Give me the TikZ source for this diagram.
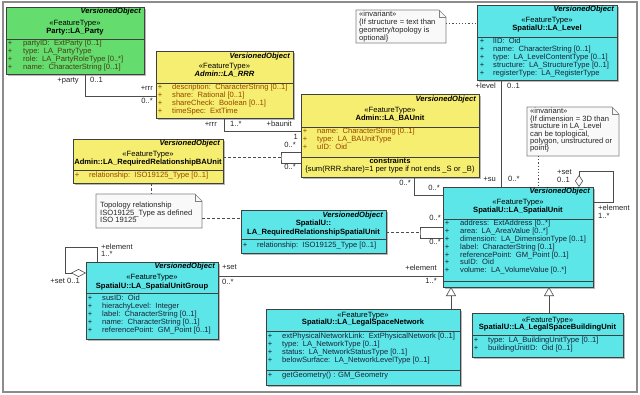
\documentclass[tikz,border=0pt]{standalone}
\usepackage{fontspec}
\setmainfont{Liberation Sans}
\usetikzlibrary{shadows,arrows.meta}
\definecolor{umlgreen}{RGB}{100,220,110}
\definecolor{umlyellow}{RGB}{246,238,112}
\definecolor{umlcyan}{RGB}{92,230,232}
\definecolor{gattr}{RGB}{70,60,20}
\definecolor{yattr}{RGB}{150,70,0}
\definecolor{cattr}{RGB}{25,35,55}
\definecolor{notefill}{RGB}{249,249,249}
\newcommand{\acol}{:\ \ }
\newcommand{\umlfs}{\fontsize{7.6}{7.8}\selectfont}
\newcommand{\umlattrs}[6]{%
  \foreach \s [count=\i] in {#6} {
    \node[pls, text=#5] (#1-p\i) at (#2, #4+7.8*\i-7.8) {+};
    \node[atr, text=#5] (#1-a\i) at (#3, #4+7.8*\i-7.8) {\s};
  }}
\newcommand{\umlnote}[5]{%
  \foreach \s [count=\i] in {#5} {
    \node[atr, text=black!85] (#1-l\i) at (#2, #3+#4*\i-#4) {\s};
  }}
\begin{document}
\begin{tikzpicture}[x=1pt,y=-1pt,
  box/.style={draw=black!75, line width=0.6pt, anchor=north west, inner sep=0, outer sep=0,
    drop shadow={shadow xshift=1.6pt, shadow yshift=-1.6pt, fill=black!55, opacity=0.5}},
  gbox/.style={box, fill=umlgreen},
  ybox/.style={box, fill=umlyellow},
  cbox/.style={box, fill=umlcyan},
  notebox/.style={anchor=north west, inner sep=0, outer sep=0},
  notel/.style={draw=black!50, line width=0.6pt, fill=notefill},
  lbl/.style={inner sep=0, font=\umlfs, text height=5.3pt, text depth=1.5pt},
  vo/.style={lbl, anchor=east, font=\umlfs\bfseries\itshape},
  ster/.style={lbl, anchor=center},
  ttl/.style={lbl, anchor=center, font=\umlfs\bfseries},
  atr/.style={lbl, anchor=west},
  pls/.style={lbl, anchor=center},
  mult/.style={lbl, text=black!85},
  sep/.style={draw=black!75, line width=0.6pt},
  assoc/.style={draw=black!70, line width=0.6pt},
  dashc/.style={assoc, dash pattern=on 3pt off 2pt},
  dotc/.style={assoc, dash pattern=on 1.2pt off 2pt},
  gen/.style={assoc, -{Triangle[fill=white, length=9pt, width=10pt]}},
  agg/.style={assoc, -{Diamond[fill=white, length=#1, width=8pt]}}
]
\useasboundingbox (0,0) rectangle (640,394);
\fill[white] (0,0) rectangle (640,394);
\draw[black!45, line width=1.4pt] (3,2) rectangle (637,392);

% ---------- Party::LA_Party ----------
\node[gbox, minimum width=138pt, minimum height=67pt] (party) at (6,7) {};
\node[vo] (party-vo) at (141,12) {VersionedObject};
\node[ster] (party-st) at (75,24) {«FeatureType»};
\node[ttl] (party-ti) at (75,32) {Party::LA\_Party};
\draw[sep] (party.west |- 0,39) -- (party.east |- 0,39);
\umlattrs{party}{10}{23}{44}{gattr}{partyID\acol ExtParty [0..1], type\acol LA\_PartyType, role\acol LA\_PartyRoleType [0..*], name\acol CharacterString [0..1]}

% ---------- Admin::LA_RRR ----------
\node[ybox, minimum width=137pt, minimum height=67pt] (rrr) at (156,51) {};
\node[vo] (rrr-vo) at (290,57) {VersionedObject};
\node[ster] (rrr-st) at (224.5,67) {«FeatureType»};
\node[ttl, font=\umlfs\bfseries\itshape] (rrr-ti) at (224.5,75) {Admin::LA\_RRR};
\draw[sep] (rrr.west |- 0,83) -- (rrr.east |- 0,83);
\umlattrs{rrr}{160}{172}{88}{yattr}{description\acol CharacterString [0..1], share\acol Rational [0..1], shareCheck\acol Boolean [0..1], timeSpec\acol ExtTime}

% ---------- Admin::LA_BAUnit ----------
\node[ybox, minimum width=178pt, minimum height=83pt] (bau) at (301,94) {};
\node[vo] (bau-vo) at (476,100) {VersionedObject};
\node[ster] (bau-st) at (390,111) {«FeatureType»};
\node[ttl] (bau-ti) at (390,119) {Admin::LA\_BAUnit};
\draw[sep] (bau.west |- 0,127) -- (bau.east |- 0,127);
\umlattrs{bau}{305}{317}{132}{yattr}{name\acol CharacterString [0..1], type\acol LA\_BAUnitType, uID\acol Oid}
\draw[sep] (bau.west |- 0,157) -- (bau.east |- 0,157);
\node[ttl] (bau-co) at (390,162) {constraints};
\node[ster] (bau-cx) at (390,170) {\{sum(RRR.share)=1 per type if not ends \_S or \_B)};

% ---------- Admin::LA_RequiredRelationshipBAUnit ----------
\node[ybox, minimum width=150pt, minimum height=44pt] (rrbau) at (73,139) {};
\node[vo] (rrbau-vo) at (220,144) {VersionedObject};
\node[ster] (rrbau-st) at (148,155) {«FeatureType»};
\node[ttl] (rrbau-ti) at (148,163) {Admin::LA\_RequiredRelationshipBAUnit};
\draw[sep] (rrbau.west |- 0,170) -- (rrbau.east |- 0,170);
\umlattrs{rrbau}{77}{89}{176}{yattr}{relationship\acol ISO19125\_Type [0..1]}

% ---------- SpatialU::LA_RequiredRelationshipSpatialUnit ----------
\node[cbox, minimum width=145pt, minimum height=43pt] (rrsu) at (241,210) {};
\node[vo] (rrsu-vo) at (383,216) {VersionedObject};
\node[ttl] (rrsu-t1) at (313.5,224) {SpatialU::};
\node[ttl] (rrsu-t2) at (313.5,233) {LA\_RequiredRelationshipSpatialUnit};
\draw[sep] (rrsu.west |- 0,239) -- (rrsu.east |- 0,239);
\umlattrs{rrsu}{245}{257}{246}{cattr}{relationship\acol ISO19125\_Type [0..1]}

% ---------- SpatialU::LA_Level ----------
\node[cbox, minimum width=140pt, minimum height=75pt] (lvl) at (477,5) {};
\node[vo] (lvl-vo) at (614,10) {VersionedObject};
\node[ster] (lvl-st) at (547,21) {«FeatureType»};
\node[ttl] (lvl-ti) at (547,29) {SpatialU::LA\_Level};
\draw[sep] (lvl.west |- 0,37) -- (lvl.east |- 0,37);
\umlattrs{lvl}{482}{493}{42}{cattr}{lID\acol Oid, name\acol CharacterString [0..1], type\acol LA\_LevelContentType [0..1], structure\acol LA\_StructureType [0..1], registerType\acol LA\_RegisterType}

% ---------- SpatialU::LA_SpatialUnit ----------
\node[cbox, minimum width=150pt, minimum height=100pt] (su) at (443,187) {};
\node[vo] (su-vo) at (590,192) {VersionedObject};
\node[ster] (su-st) at (518,203) {«FeatureType»};
\node[ttl] (su-ti) at (518,211) {SpatialU::LA\_SpatialUnit};
\draw[sep] (su.west |- 0,219) -- (su.east |- 0,219);
\umlattrs{su}{447}{460}{224}{cattr}{address\acol ExtAddress [0..*], area\acol LA\_AreaValue [0..*], dimension\acol LA\_DimensionType [0..1], label\acol CharacterString [0..1], referencePoint\acol GM\_Point [0..1], suID\acol Oid, volume\acol LA\_VolumeValue [0..*]}
\draw[sep] (su.west |- 0,281) -- (su.east |- 0,281);

% ---------- SpatialU::LA_SpatialUnitGroup ----------
\node[cbox, minimum width=132pt, minimum height=77pt] (sug) at (86,262) {};
\node[vo] (sug-vo) at (215,267) {VersionedObject};
\node[ster] (sug-st) at (152,278) {«FeatureType»};
\node[ttl] (sug-ti) at (152,287) {SpatialU::LA\_SpatialUnitGroup};
\draw[sep] (sug.west |- 0,293) -- (sug.east |- 0,293);
\umlattrs{sug}{90}{102}{299}{cattr}{susID\acol Oid, hierachyLevel\acol Integer, label\acol CharacterString [0..1], name\acol CharacterString [0..1], referencePoint\acol GM\_Point [0..1]}

% ---------- SpatialU::LA_LegalSpaceNetwork ----------
\node[cbox, minimum width=194pt, minimum height=76pt] (lsn) at (266,309) {};
\node[ster] (lsn-st) at (363,316) {«FeatureType»};
\node[ttl] (lsn-ti) at (363,323) {SpatialU::LA\_LegalSpaceNetwork};
\draw[sep] (lsn.west |- 0,331) -- (lsn.east |- 0,331);
\umlattrs{lsn}{270}{282}{337}{cattr}{extPhysicalNetworkLink\acol ExtPhysicalNetwork [0..1], type\acol LA\_NetworkType [0..1], status\acol LA\_NetworkStatusType [0..1], belowSurface\acol LA\_NetworkLevelType [0..1]}
\draw[sep] (lsn.west |- 0,370) -- (lsn.east |- 0,370);
\node[pls, text=cattr] (lsn-op) at (270,376) {+};
\node[atr, text=cattr] (lsn-o1) at (282,376) {getGeometry() : GM\_Geometry};

% ---------- SpatialU::LA_LegalSpaceBuildingUnit ----------
\node[cbox, minimum width=151pt, minimum height=44pt] (lsbu) at (472,313) {};
\node[ster] (lsbu-st) at (547.5,321) {«FeatureType»};
\node[ttl] (lsbu-ti) at (547.5,328) {SpatialU::LA\_LegalSpaceBuildingUnit};
\draw[sep] (lsbu.west |- 0,335) -- (lsbu.east |- 0,335);
\umlattrs{lsbu}{476}{488}{341}{cattr}{type\acol LA\_BuildingUnitType [0..1], buildingUnitID\acol Oid [0..1]}

% ---------- Notes ----------
\node[notebox, minimum width=90pt, minimum height=33pt] (n1) at (356,10) {};
\node[notebox, minimum width=92pt, minimum height=49pt] (n2) at (527,107) {};
\node[notebox, minimum width=106pt, minimum height=34pt] (n3) at (96,194) {};
\foreach \n in {n1,n2,n3} {
  \draw[notel] (\n.north west) -- ([xshift=-7pt]\n.north east) -- ([yshift=-7pt]\n.north east)
     -- (\n.south east) -- (\n.south west) -- cycle;
  \draw[notel, fill=none] ([xshift=-7pt]\n.north east) -- ([xshift=-7pt,yshift=-7pt]\n.north east)
     -- ([yshift=-7pt]\n.north east);
}
\umlnote{n1}{359}{15}{7.7}{«invariant», \{If structure = text than, geometry/topology is, optional\}}
\umlnote{n2}{530}{112}{7.4}{«invariant», \{If dimension = 3D than, structure in LA\_Level, can be toplogical{,}, {polygon, unstructured or}, point\}}
\umlnote{n3}{100}{206}{7.5}{Topology relationship, ISO19125\_Type as defined, ISO 19125}

% ---------- Connectors ----------
\draw[assoc] (party.south -| 85,0) |- (rrr.west |- 0,96);
\draw[assoc] (rrr.south -| 224,0) |- (bau.west |- 0,131);
\coordinate (bloop) at (281,157.5);
\draw[assoc] (bau.west |- 0,152) -| (bloop) |- (bau.west |- 0,163);
\draw[dashc] (rrbau.east |- bloop) -- (bloop);
\draw[assoc] (bau.south -| 414,0) |- (su.west |- 0,195);
\coordinate (sloop) at (420,232.5);
\draw[assoc] (su.west |- 0,227) -| (sloop) |- (su.west |- 0,238);
\draw[dashc] (rrsu.east |- sloop) -- (sloop);
\draw[assoc] (lvl.south -| 501,0) -- (su.north -| 501,0);
\draw[assoc] (sug.east |- 0,276) -- (su.west |- 0,276);
\coordinate (sgc) at (65,247);
\draw[agg=15pt] (sug.north -| 97,0) |- (sgc) |- (sug.west |- 0,273);
\coordinate (suc) at (613,171);
\draw[agg=12pt] (su.east |- 0,202) -| (suc) -| (su.north -| 579,0);
\draw[gen] (lsn.north -| 451,0) -- (su.south -| 451,0);
\draw[gen] (lsbu.north -| 549,0) -- (su.south -| 549,0);
\draw[dotc] (n1.east |- 0,23) -- (lvl.west |- 0,23);
\draw[dotc] (n2.south -| 538,0) -- (su.north -| 538,0);
\draw[dashc] (rrbau.south -| 151,0) -- (n3.north -| 151,0);
\draw[dashc] (n3.east |- 0,218) -- (rrsu.west |- 0,218);

% ---------- Role / multiplicity labels ----------
\node[mult, anchor=east] (m1) at (79,81) {+party};
\node[mult, anchor=west] (m2) at (90,81) {0..1};
\node[mult, anchor=east] (m3) at (153,89) {+rrr};
\node[mult, anchor=east] (m4) at (153,102) {0..*};
\node[mult, anchor=east] (m5) at (217,125) {+rrr};
\node[mult, anchor=west] (m6) at (230,125) {1..*};
\node[mult, anchor=east] (m7) at (292,125) {+baunit};
\node[mult, anchor=east] (m8) at (298,138) {1};
\node[mult, anchor=east] (m9) at (296,146) {0..*};
\node[mult, anchor=east] (m10) at (296,168) {0..*};
\node[mult, anchor=east] (m11) at (411,184) {0..*};
\node[mult, anchor=east] (m12) at (440,189) {0..*};
\node[mult, anchor=east] (m13) at (441,219) {0..*};
\node[mult, anchor=east] (m14) at (441,243) {0..*};
\node[mult, anchor=east] (m15) at (496,87) {+level};
\node[mult, anchor=west] (m16) at (507,87) {0..1};
\node[mult, anchor=east] (m17) at (496,180) {+su};
\node[mult, anchor=west] (m18) at (508,180) {0..*};
\node[mult, anchor=west] (m19) at (222,268) {+set};
\node[mult, anchor=west] (m20) at (222,283) {0..*};
\node[mult, anchor=east] (m21) at (437,269) {+element};
\node[mult, anchor=east] (m22) at (437,282) {1..*};
\node[mult, anchor=west] (m23) at (101,248) {+element};
\node[mult, anchor=west] (m24) at (101,255) {1..*};
\node[mult, anchor=east] (m25) at (80,282) {+set 0..1};
\node[mult, anchor=west] (m26) at (557,173) {+set};
\node[mult, anchor=west] (m27) at (557,181) {0..1};
\node[mult, anchor=west] (m28) at (598,209) {+element};
\node[mult, anchor=west] (m29) at (598,217) {1..*};
\end{tikzpicture}
\end{document}
